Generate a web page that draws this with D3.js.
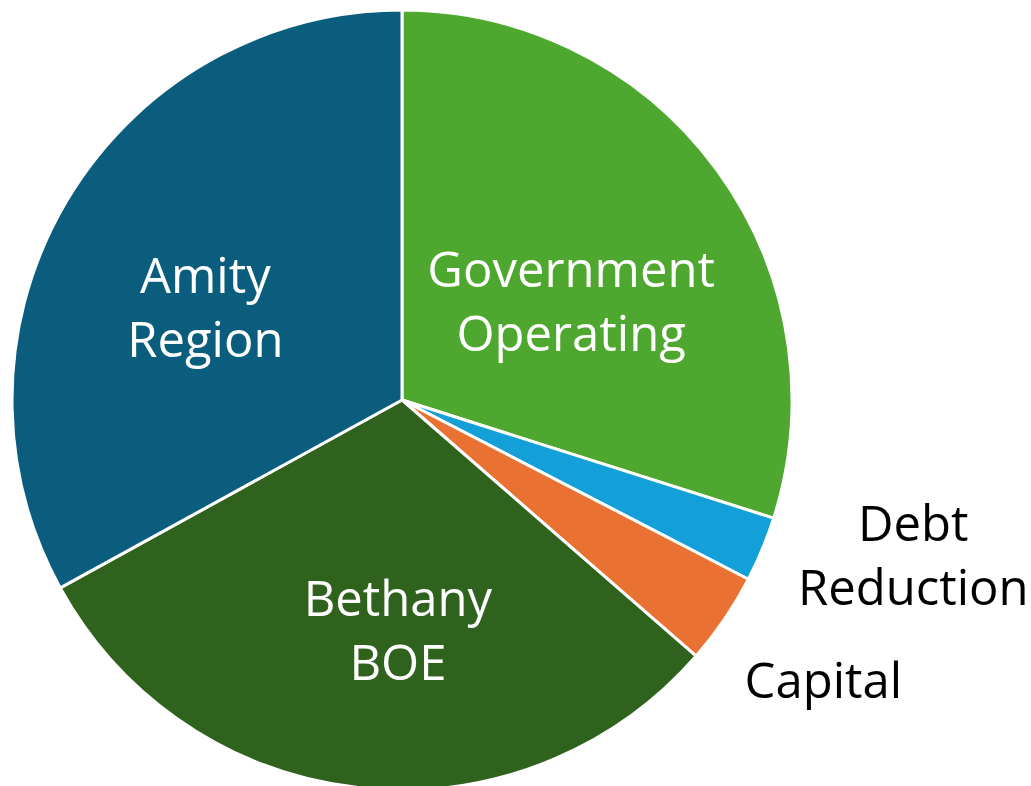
<!DOCTYPE html>
<html>
<head>
<meta charset="utf-8">
<script src="https://cdn.jsdelivr.net/npm/d3@7"></script>
<style>
  body { margin: 0; background: #fff; }
  text { font-family: "Open Sans", sans-serif; }
</style>
</head>
<body>
<div id="chart"></div>
<script>
let w = 1031;
let h = 786;

// slices, clockwise from 12 o'clock
let categories = ["Government Operating", "Debt Reduction", "Capital", "Bethany BOE", "Amity Region"];
let values = [29.9, 2.7, 3.8, 30.6, 33.0];
let colors = ["#4EA72E", "#139FD7", "#E97132", "#2F621C", "#0B5D7E"];
let labelLines = [["Government", "Operating"], ["Debt", "Reduction"], ["Capital"], ["Bethany", "BOE"], ["Amity", "Region"]];
let inside = [true, false, false, true, true];

// label nudges (layout only)
let labelRadius = [0.55, 1.38, 1.30, 0.58, 0.55];
let labelShift = [[-4, 30], [14, -49], [2, -3], [20, 7], [-12, 18]];

let cx = 402, cy = 400, r = 390;

let svg = d3.select("#chart")
  .append("svg")
  .attr("width", w)
  .attr("height", h);

let g = svg.append("g")
  .attr("transform", "translate(" + cx + "," + cy + ")");

let pie = d3.pie().sort(null).value(d => d);
let arcs = pie(values);

let arc = d3.arc().innerRadius(0).outerRadius(r);

g.selectAll("path.slice")
  .data(arcs)
  .join("path")
  .attr("class", "slice")
  .attr("d", arc)
  .attr("fill", (d, i) => colors[i])
  .attr("stroke", "#fff")
  .attr("stroke-width", 3)
  .attr("stroke-linejoin", "round");

let lineH = 64;
let labels = g.selectAll("text.lbl")
  .data(arcs)
  .join("text")
  .attr("class", "lbl")
  .attr("text-anchor", "middle")
  .attr("font-size", 49)
  .attr("fill", (d, i) => inside[i] ? "#fff" : "#000")
  .attr("transform", (d, i) => {
    let a = (d.startAngle + d.endAngle) / 2;
    let rr = r * labelRadius[i];
    let x = rr * Math.sin(a) + labelShift[i][0];
    let y = -rr * Math.cos(a) + labelShift[i][1];
    return "translate(" + x + "," + y + ")";
  });

labels.each(function(d, i) {
  let lines = labelLines[i];
  let t = d3.select(this);
  let y0 = -(lines.length - 1) * lineH / 2 + 16;
  lines.forEach((s, k) => {
    t.append("tspan")
      .attr("x", 0)
      .attr("y", y0 + k * lineH)
      .text(s);
  });
});
</script>
</body>
</html>
